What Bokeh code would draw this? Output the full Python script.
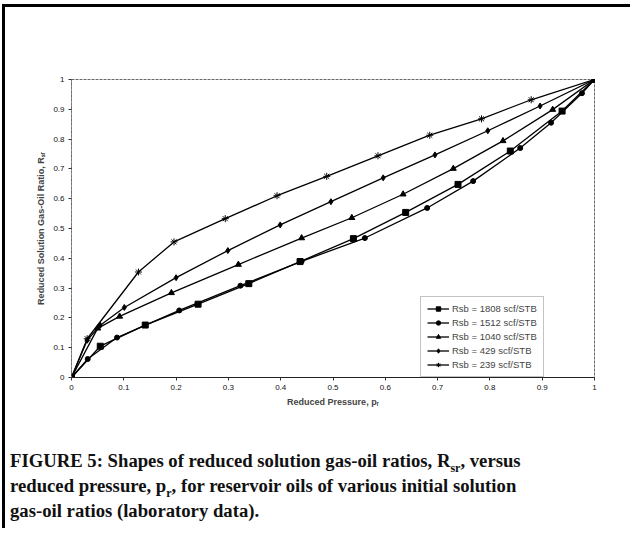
from bokeh.plotting import figure
from bokeh.models import FixedTicker, Legend, LegendItem, Div
from bokeh.layouts import column
from bokeh.embed import file_html
from bokeh.resources import INLINE

# ---- data ----
x_1808 = [0, 0.055, 0.141, 0.242, 0.339, 0.437, 0.539, 0.639, 0.739, 0.839, 0.938, 1.0]
y_1808 = [0, 0.105, 0.176, 0.246, 0.315, 0.389, 0.466, 0.554, 0.648, 0.760, 0.894, 1.0]

x_1512 = [0, 0.031, 0.087, 0.206, 0.323, 0.44, 0.561, 0.68, 0.768, 0.858, 0.917, 0.976, 1.0]
y_1512 = [0, 0.062, 0.134, 0.225, 0.308, 0.39, 0.468, 0.569, 0.659, 0.770, 0.855, 0.954, 1.0]

x_1040 = [0, 0.05, 0.092, 0.191, 0.319, 0.44, 0.536, 0.634, 0.73, 0.825, 0.92, 1.0]
y_1040 = [0, 0.165, 0.205, 0.284, 0.379, 0.468, 0.536, 0.615, 0.701, 0.794, 0.899, 1.0]

x_429 = [0, 0.03, 0.055, 0.101, 0.2, 0.299, 0.399, 0.496, 0.596, 0.695, 0.796, 0.896, 1.0]
y_429 = [0, 0.125, 0.175, 0.235, 0.335, 0.426, 0.512, 0.590, 0.670, 0.747, 0.828, 0.911, 1.0]

x_239 = [0, 0.03, 0.128, 0.196, 0.294, 0.393, 0.488, 0.586, 0.685, 0.784, 0.879, 1.0]
y_239 = [0, 0.13, 0.354, 0.455, 0.533, 0.610, 0.675, 0.744, 0.813, 0.868, 0.932, 1.0]

series_labels = ["Rsb = 1808 scf/STB", "Rsb = 1512 scf/STB", "Rsb = 1040 scf/STB",
                 "Rsb = 429 scf/STB", "Rsb = 239 scf/STB"]
series_markers = ["square", "circle", "triangle", "diamond", "asterisk"]

tick_values = [0, 0.1, 0.2, 0.3, 0.4, 0.5, 0.6, 0.7, 0.8, 0.9, 1.0]
tick_labels = ["0", "0.1", "0.2", "0.3", "0.4", "0.5", "0.6", "0.7", "0.8", "0.9", "1"]

x_title = "Reduced Pressure, p\u1d63"
y_title = "Reduced Solution Gas-Oil Ratio, R\u209b\u1d63"

# ---- figure ----
p = figure(frame_width=523, frame_height=298, output_backend="svg", toolbar_location=None,
           x_range=(0, 1), y_range=(0, 1),
           min_border_left=66, min_border_right=24, min_border_top=72, min_border_bottom=40)
p.grid.visible = False
p.background_fill_color = "white"
p.border_fill_color = "white"
p.outline_line_color = "#666666"
p.outline_line_dash = "3 1"
p.outline_line_width = 1

for ax in (p.xaxis[0], p.yaxis[0]):
    ax.ticker = FixedTicker(ticks=tick_values)
    ax.major_label_overrides = {v: s for v, s in zip(tick_values, tick_labels)}
    ax.minor_tick_line_color = None
    ax.major_label_text_font = "Liberation Sans"
    ax.major_label_text_font_size = "8px"
    ax.major_label_text_color = "#111111"
    ax.axis_label_text_font = "Liberation Sans"
    ax.axis_label_text_font_size = "9px"
    ax.axis_label_text_font_style = "bold"
    ax.major_tick_in = 0
    ax.major_tick_out = 3
    ax.major_tick_line_color = "#333333"

p.xaxis.axis_label = x_title
p.yaxis.axis_label = y_title
p.xaxis.axis_line_color = "#222222"
p.yaxis.axis_line_color = "#777777"
p.yaxis.axis_line_dash = "2 1"
p.xaxis.major_label_standoff = 4
p.yaxis.major_label_standoff = 4
p.xaxis.axis_label_standoff = 4
p.yaxis.axis_label_standoff = 4

xs = [x_1808, x_1512, x_1040, x_429, x_239]
ys = [y_1808, y_1512, y_1040, y_429, y_239]
sizes = [6, 5, 6, 6, 7]
items = []
for xv, yv, lab, mk, sz in zip(xs, ys, series_labels, series_markers, sizes):
    r1 = p.line(xv, yv, line_color="black", line_width=1.3)
    r2 = p.scatter(xv, yv, marker=mk, size=sz, fill_color="black", line_color="black", line_width=1)
    items.append(LegendItem(label=lab, renderers=[r1, r2]))

legend = Legend(items=items, location=(349, 0), orientation="vertical")
legend.label_text_font = "Liberation Sans"
legend.label_text_font_size = "9.5px"
legend.label_height = 11
legend.glyph_height = 11
legend.glyph_width = 22
legend.spacing = 3
legend.padding = 6
legend.margin = 0
legend.border_line_color = "#888888"
legend.border_line_width = 1
legend.background_fill_color = "white"
legend.label_standoff = 3
p.add_layout(legend, "center")

sub = '<sub style="font-size:12px;line-height:0;">'
caption = Div(
    text=(f"FIGURE 5: Shapes of reduced solution gas-oil ratios, R{sub}sr</sub>, versus<br>"
          f"reduced pressure, p{sub}r</sub>, for reservoir oils of various initial solution<br>"
          "gas-oil ratios (laboratory data)."),
    width=600,
    styles={"font-family": "Liberation Serif, Times New Roman, serif", "font-weight": "bold",
            "font-size": "18.7px", "line-height": "25px", "white-space": "nowrap",
            "margin-top": "31px", "margin-left": "5px", "color": "#111111"},
)

layout = column(p, caption, width=628,
                styles={"border-left": "3px solid black", "border-top": "3px solid black",
                        "margin-left": "2px", "margin-top": "4px"})

open("out.html", "w").write(file_html(layout, INLINE))
